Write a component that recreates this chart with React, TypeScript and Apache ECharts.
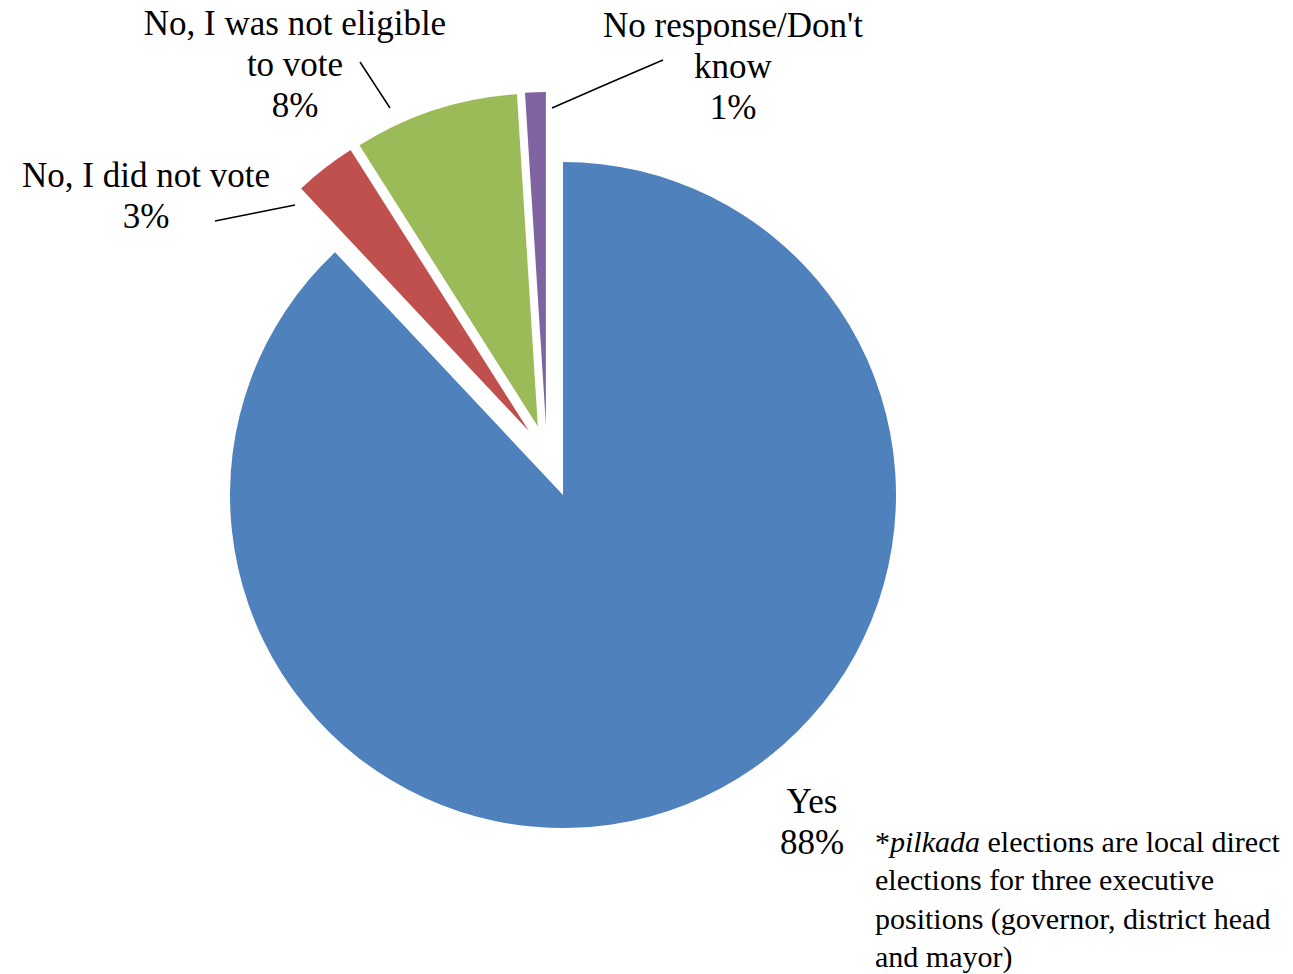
import React, { useEffect, useRef } from 'react';
import * as echarts from 'echarts';

// ---- data ----
const categories = ['Yes', 'No, I did not vote', 'No, I was not eligible to vote', "No response/Don't know"];
const labelTexts = ['Yes', 'No, I did not vote', 'No, I was not eligible\nto vote', "No response/Don't\nknow"];
const values = [88, 3, 8, 1];
const colors = ['#4F81BD', '#C0504D', '#9BBB59', '#8064A2'];
const footnoteLines = [
  '{n|*}{i|pilkada}{n| elections are local direct}',
  '{n|elections for three executive}',
  '{n|positions (governor, district head}',
  '{n|and mayor)}',
];

// ---- layout / style ----
const FONT = 'Liberation Serif';
const LABEL_SIZE = 35;
const LABEL_LH = 41;
const CENTER = [546.8, 454.1];
const RADIUS = 333;
const EXPLODE = [44, 29, 29, 29];
const LABEL_POS: number[][] = [
  [812, 822],
  [146, 196],
  [295, 64],
  [733, 66],
];
const LINE_PTS: (number[][] | null)[] = [
  null,
  [[215, 221], [255, 213], [295, 205]],
  [[360, 62], [375, 85], [390, 108]],
  [[663, 60], [607, 84], [552, 108]],
];

function explodedCenter(i: number): number[] {
  const total = values.reduce((a, b) => a + b, 0);
  let before = 0;
  for (let k = 0; k < i; k++) before += values[k];
  const mid = ((before + values[i] / 2) / total) * Math.PI * 2; // clockwise from 12 o'clock
  return [CENTER[0] + EXPLODE[i] * Math.sin(mid), CENTER[1] - EXPLODE[i] * Math.cos(mid)];
}

function makeSeries(visibleIdx: number) {
  return {
    type: 'pie',
    name: categories[visibleIdx],
    center: explodedCenter(visibleIdx),
    radius: RADIUS,
    startAngle: 90,
    clockwise: true,
    avoidLabelOverlap: false,
    silent: true,
    emphasis: { disabled: true },
    itemStyle: { borderWidth: 0 },
    label: {
      show: true,
      position: 'outside',
      formatter: (p: any) => labelTexts[p.dataIndex] + '\n' + Math.round(p.percent) + '%',
      fontFamily: FONT,
      fontSize: LABEL_SIZE,
      lineHeight: LABEL_LH,
      color: '#000',
      align: 'center',
    },
    labelLine: { show: true, lineStyle: { color: '#000', width: 1.5 } },
    labelLayout: (p: any) => {
      const i = p.dataIndex;
      const pos = LABEL_POS[i];
      const res: any = { x: pos[0], y: pos[1], align: 'center', verticalAlign: 'middle' };
      if (LINE_PTS[i]) res.labelLinePoints = LINE_PTS[i];
      return res;
    },
    data: categories.map((name, i) => {
      const vis = i === visibleIdx;
      return {
        name,
        value: values[i],
        itemStyle: { color: vis ? colors[i] : 'rgba(0,0,0,0)', borderWidth: 0 },
        label: { show: vis },
        labelLine: { show: vis && LINE_PTS[i] !== null },
      };
    }),
  };
}

export default function App() {
  const ref = useRef<HTMLDivElement>(null);
  useEffect(() => {
    if (!ref.current) return;
    const chart = echarts.init(ref.current, undefined, { renderer: 'svg' });
    chart.setOption({
      animation: false,
      backgroundColor: '#fff',
      series: categories.map((_, i) => makeSeries(i)),
      graphic: [
        {
          type: 'text',
          left: 875,
          top: 826,
          style: {
            text: footnoteLines.join('\n'),
            fill: '#000',
            rich: {
              n: { fontFamily: FONT, fontSize: 30, lineHeight: 38.5, fill: '#000' },
              i: { fontFamily: FONT, fontSize: 30, lineHeight: 38.5, fontStyle: 'italic', fill: '#000' },
            },
          },
        },
      ],
    });
    return () => chart.dispose();
  }, []);
  return (
    <div
      ref={ref}
      style={{ position: 'absolute', left: 0, top: 0, width: 1293, height: 974 }}
    />
  );
}
